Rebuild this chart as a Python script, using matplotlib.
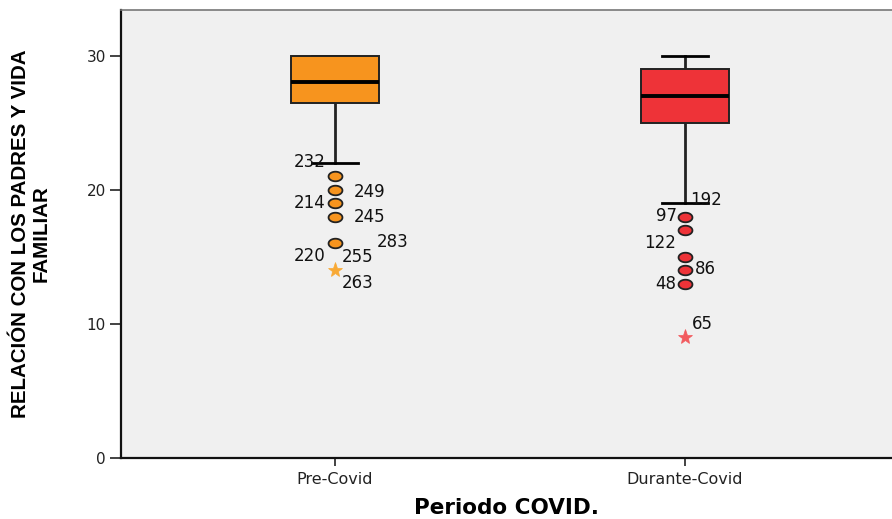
import matplotlib
matplotlib.use("Agg")
import matplotlib.pyplot as plt
import numpy as np
from matplotlib.path import Path

# ---- data ----
groups = ["Pre-Covid", "Durante-Covid"]
q1 = [26.5, 25]
medians = [28, 27]
q3 = [30, 29]
whisker_low = [22, 19]
whisker_high = [30, 30]

pre_outliers = [21, 20, 19, 18, 16]
pre_extremes = [14]
durante_outliers = [18, 17, 15, 14, 13]
durante_extremes = [9]

pre_case_ids = ["232", "249", "214", "245", "283", "220", "255", "263"]
pre_case_values = [21, 20, 19, 18, 16, 16, 16, 14]
durante_case_ids = ["192", "97", "122", "86", "48", "65"]
durante_case_values = [17, 18, 15, 14, 13, 9]

# label placement (pixel offsets from the point)
pre_offsets = [(-25, 14), (35, -2), (-25, 0), (35, 0), (58, 1), (-25, -13), (23, -14), (23, -13)]
durante_offsets = [(21, 30), (-19, 1), (-25, 14), (20, 1), (-19, 0), (17, 13)]

box_colors = ["#F7941E", "#EE3338"]
star_colors = ["#F8A935", "#F25A5E"]
bg = "#F0F0F0"

fig = plt.figure(figsize=(8.92, 5.19), dpi=100)
ax = fig.add_axes([121 / 892, 61 / 519, 1 - 121 / 892, (458 - 10) / 519])
ax.set_facecolor(bg)

positions = [1, 2]
stats = []
for i in range(2):
    stats.append(dict(med=medians[i], q1=q1[i], q3=q3[i],
                      whislo=whisker_low[i], whishi=whisker_high[i], fliers=[]))

bp = ax.bxp(stats, positions=positions, widths=0.25, capwidths=0.13,
            showfliers=False, patch_artist=True,
            boxprops=dict(linewidth=1.4, edgecolor="#222222"),
            medianprops=dict(color="black", linewidth=2.8),
            whiskerprops=dict(color="#222222", linewidth=2),
            capprops=dict(color="black", linewidth=2))
for patch, c in zip(bp["boxes"], box_colors):
    patch.set_facecolor(c)
    patch.set_zorder(3)
for m in bp["medians"]:
    m.set_zorder(4)

# slightly wide ellipse marker for outliers
t = np.linspace(0, 2 * np.pi, 60)
ellipse = Path(np.column_stack([1.45 * np.cos(t), np.sin(t)]), closed=True)

outs = [pre_outliers, durante_outliers]
extr = [pre_extremes, durante_extremes]
for i, p in enumerate(positions):
    ax.plot([p] * len(outs[i]), outs[i], linestyle="none", marker=ellipse,
            markersize=10, markerfacecolor=box_colors[i],
            markeredgecolor="#222222", markeredgewidth=1.3, zorder=4)
    ax.plot([p] * len(extr[i]), extr[i], linestyle="none", marker="*",
            markersize=11, markerfacecolor=star_colors[i],
            markeredgecolor=star_colors[i], markeredgewidth=0.5, zorder=4)

label_sets = [(pre_case_ids, pre_case_values, pre_offsets),
              (durante_case_ids, durante_case_values, durante_offsets)]
for p, (ids, vals, offs) in zip(positions, label_sets):
    for txt, v, (dx, dy) in zip(ids, vals, offs):
        ax.annotate(txt, xy=(p, v), xytext=(dx, dy), textcoords="offset pixels",
                    ha="center", va="center", fontsize=12, color="#111111",
                    family="DejaVu Sans", zorder=5)

ax.set_xlim(0.389, 2.591)
ax.set_ylim(0, 33.4)
ax.set_yticks([0, 10, 20, 30])
ax.set_xticks(positions)
ax.set_xticklabels(groups)

for side in ["left", "bottom"]:
    ax.spines[side].set_color("#111111")
    ax.spines[side].set_linewidth(1.6)
ax.spines["top"].set_color("#777777")
ax.spines["top"].set_linewidth(1.2)
ax.spines["right"].set_visible(False)

ax.tick_params(axis="y", direction="out", length=8, width=1.2, color="#222222",
               labelsize=11, labelcolor="#222222", pad=3)
ax.tick_params(axis="x", direction="out", length=6, width=1.2, color="#222222",
               labelsize=11.5, labelcolor="#222222", pad=4)
for lbl in ax.get_xticklabels() + ax.get_yticklabels():
    lbl.set_family("DejaVu Sans")

ax.set_xlabel("Periodo COVID.", fontsize=15.5, fontweight="bold",
              family="DejaVu Sans", labelpad=8)
ax.set_ylabel("RELACIÓN CON LOS PADRES Y VIDA\nFAMILIAR", fontsize=14.8,
              fontweight="bold", family=["Liberation Sans Narrow", "Liberation Sans"],
              linespacing=1.1, labelpad=26)

fig.savefig("out.png", dpi=100, facecolor="white")
